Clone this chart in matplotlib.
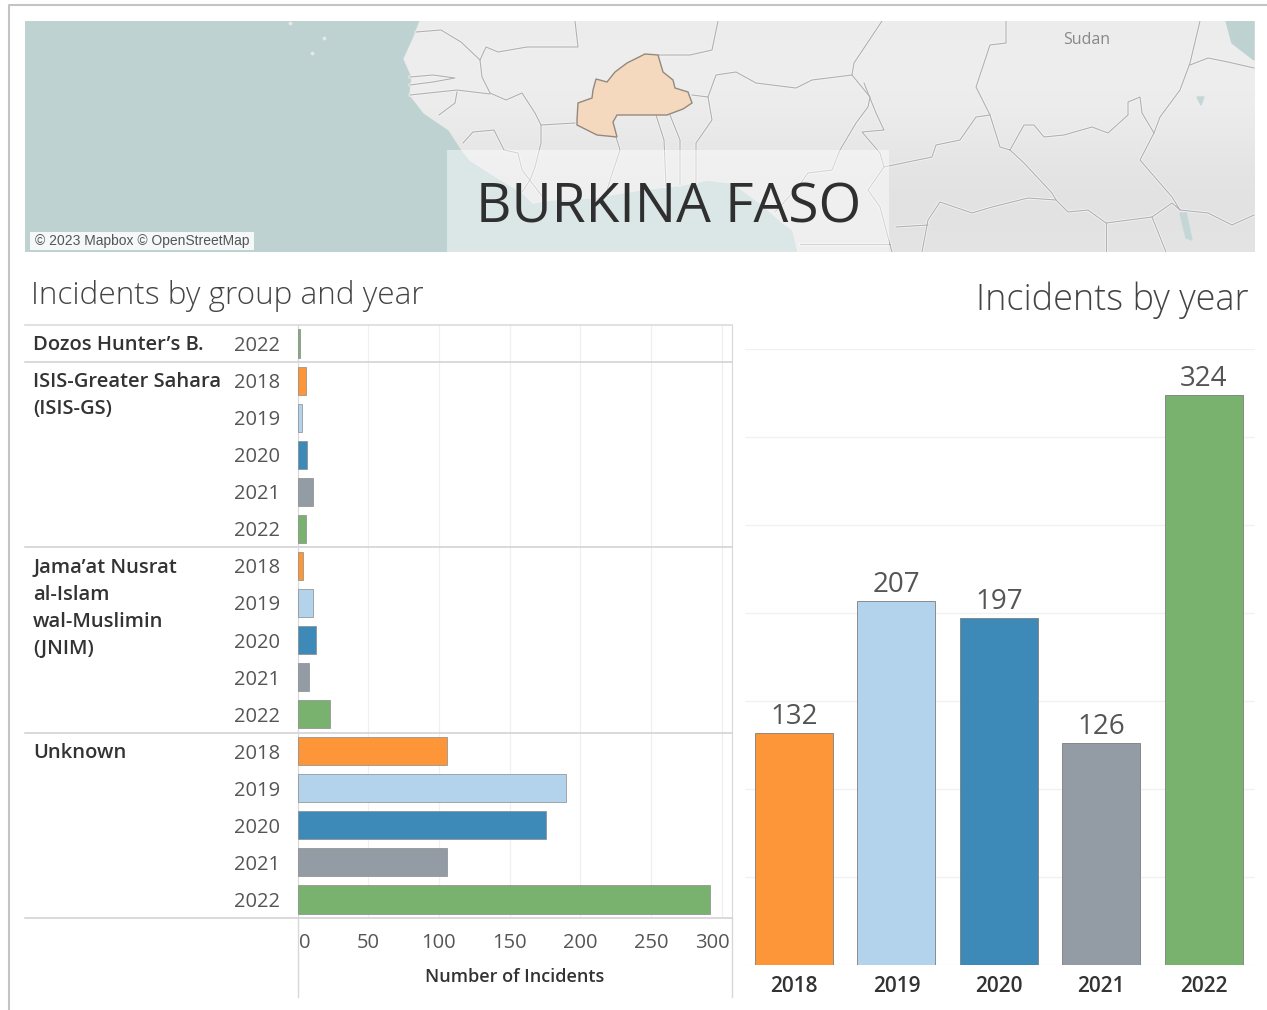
import matplotlib
matplotlib.use("Agg")
import matplotlib.pyplot as plt
from matplotlib.patches import Polygon, Rectangle
from matplotlib.transforms import blended_transform_factory
import numpy as np

W, H = 1267, 1010
plt.rcParams['font.family'] = ['Open Sans', 'DejaVu Sans']

# dane
years = ["2018", "2019", "2020", "2021", "2022"]
year_colors = {"2018": "#fd9539", "2019": "#b3d3ec", "2020": "#3d89b8", "2021": "#939ba4", "2022": "#78b26e"}
group_names = ["Dozos Hunter’s B.", "ISIS-Greater Sahara\n(ISIS-GS)", "Jama’at Nusrat\nal-Islam\nwal-Muslimin\n(JNIM)", "Unknown"]
group_years = [["2022"], years, years, years]
group_values = [[2], [6, 3, 7, 11, 6], [4, 11, 13, 8, 23], [106, 190, 176, 106, 292]]
total_values = [132, 207, 197, 126, 324]
x_ticks = [0, 50, 100, 150, 200, 250, 300]

# mapa - wspolrzedne w pikselach obrazka
coast = [(420, 21), (414, 37), (404, 59), (412, 77), (410, 95), (424, 113), (449, 130), (462, 150),
         (470, 160), (490, 173), (523, 193), (533, 203), (550, 200), (590, 198), (640, 190), (683, 185),
         (707, 180), (733, 183), (760, 203), (783, 223), (793, 230), (798, 252)]
burkina = [(577, 120), (578, 103), (592, 98), (593, 90), (596, 79), (607, 82), (615, 72), (627, 63),
           (645, 54), (658, 55), (663, 72), (673, 80), (675, 88), (688, 92), (692, 103), (683, 109),
           (667, 115), (617, 115), (613, 122), (617, 137), (597, 135), (577, 125)]
red_sea = [(1226, 21), (1232, 43), (1254, 60), (1254, 21)]
borders = [
    [(416, 32), (441, 30), (461, 42), (480, 60), (482, 77), (490, 93), (506, 100), (522, 93), (535, 113), (541, 125), (575, 123)],
    [(480, 60), (486, 47), (498, 52), (527, 47), (578, 47), (575, 21)],
    [(410, 77), (433, 75), (455, 78), (433, 82), (410, 85)],
    [(410, 95), (457, 90), (490, 94)],
    [(457, 92), (455, 103), (439, 115)],
    [(541, 125), (541, 143), (535, 167), (530, 180), (522, 192)],
    [(463, 143), (473, 132), (494, 130), (504, 150), (518, 153), (522, 170), (545, 200)],
    [(616, 137), (620, 150), (610, 180), (605, 197)],
    [(656, 115), (664, 140), (666, 186)],
    [(670, 115), (680, 140), (680, 185)],
    [(696, 183), (696, 143), (712, 120), (708, 97), (692, 95)],
    [(708, 97), (716, 75), (736, 72), (756, 83), (796, 88), (812, 80), (852, 75)],
    [(658, 55), (690, 55), (712, 50), (718, 21)],
    [(882, 21), (854, 63), (852, 75), (870, 97), (868, 107), (856, 123), (840, 150), (832, 170), (808, 173), (798, 187), (775, 212)],
    [(864, 83), (876, 113), (884, 130), (862, 132), (880, 153), (884, 167), (868, 190), (880, 207), (892, 252)],
    [(884, 167), (932, 157), (936, 145), (960, 140), (976, 117), (990, 115)],
    [(1006, 21), (1006, 43), (990, 45), (984, 63), (976, 87), (990, 115), (1000, 147), (1010, 150)],
    [(1010, 150), (1024, 125), (1034, 125), (1044, 137), (1064, 135), (1092, 127), (1108, 133), (1128, 115), (1128, 102), (1140, 97), (1142, 113), (1154, 133)],
    [(1010, 150), (1024, 163), (1052, 193), (1056, 200), (1068, 212), (1088, 210), (1106, 223), (1152, 217), (1172, 203), (1180, 210)],
    [(1056, 200), (1028, 198), (992, 207), (972, 213), (940, 202), (928, 220), (922, 252)],
    [(896, 227), (928, 225)],
    [(1200, 21), (1190, 63), (1180, 90), (1160, 117), (1154, 133), (1140, 160), (1172, 197), (1180, 210), (1208, 213), (1232, 225), (1254, 215)],
    [(1190, 65), (1208, 58), (1228, 62), (1254, 68)],
    [(1106, 223), (1106, 252)],
    [(1152, 217), (1166, 252)],
    [(800, 244), (890, 244)],
]
lakes = [[(1180, 213), (1186, 213), (1192, 240), (1186, 238)], [(1197, 97), (1204, 97), (1201, 105)]]
islands = [(290, 23), (324, 38), (312, 53)]

fig = plt.figure(figsize=(W / 100, H / 100), dpi=100)
fig.patch.set_facecolor("white")


def px_axes(x0, y0, x1, y1):
    # osie podane w pikselach obrazka (y od gory)
    return fig.add_axes([x0 / W, 1 - y1 / H, (x1 - x0) / W, (y1 - y0) / H])


# ramka calego dashboardu
fig.add_artist(plt.Line2D([9 / W, 9 / W, 1], [0, 1 - 5 / H, 1 - 5 / H], color="#c4c4c4", lw=1.5))

# MAPA
ax_map = px_axes(25, 21, 1255, 252)
ax_map.axis("off")
ax_map.add_patch(Rectangle((25, 21), 1230, 231, color="#bfd2d2", zorder=0))
land = Polygon(coast + [(1255, 252), (1255, 21)], closed=True, color="#e9e9e9", zorder=1)
ax_map.add_patch(land)
cmap_land = matplotlib.colors.LinearSegmentedColormap.from_list("z", ["#eeeeee", "#e2e2e2"])
shade = ax_map.imshow(np.array([[0.1], [0.0], [0.4], [1.0], [0.9]]), extent=(25, 1255, 252, 21), aspect="auto",
                      cmap=cmap_land, interpolation="bicubic", zorder=1.5)
shade.set_clip_path(land)
ax_map.set_xlim(25, 1255)
ax_map.set_ylim(252, 21)
ax_map.add_patch(Polygon(red_sea, closed=True, color="#bfd2d2", zorder=2))
for lake in lakes:
    ax_map.add_patch(Polygon(lake, closed=True, color="#c5d6d6", zorder=2))
for b in borders:
    xs, ys = zip(*b)
    ax_map.plot(xs, ys, color="#f4f4f4", lw=2, zorder=2.5)
    ax_map.plot(xs, ys, color="#b0b0b0", lw=0.8, zorder=3)
xs, ys = zip(*islands)
ax_map.scatter(xs, ys, s=3, color="#e4e8e8", zorder=3)
ax_map.add_patch(Polygon(burkina, closed=True, facecolor="#f5d9bf", edgecolor="#94897e", lw=1, zorder=4))
ax_map.add_patch(Rectangle((447, 150), 442, 102, color="white", alpha=0.45, lw=0, zorder=5))
ax_map.add_patch(Rectangle((30, 232), 224, 18, color="white", alpha=0.85, lw=0, zorder=5))
ax_map.text(35, 241, "© 2023 Mapbox © OpenStreetMap", family="Liberation Sans", fontsize=10, color="#555555", va="center", zorder=6)
ax_map.text(1087, 40, "Sudan", fontsize=11.5, color="#888888", ha="center", va="center", zorder=6)
ax_map.text(668.5, 208, "BURKINA FASO", fontsize=39.6, color="#2f2f2f", ha="center", va="center", zorder=6)

# TYTULY
fig.text(31 / W, 1 - 296 / H, "Incidents by group and year", fontsize=22.7, weight="light", color="#444444", va="center")
fig.text(1249 / W, 1 - 300 / H, "Incidents by year", fontsize=25.9, weight="light", color="#444444", va="center", ha="right")

# WYKRES LEWY
row_labels = []
row_values = []
for i in range(len(group_names)):
    for y, v in zip(group_years[i], group_values[i]):
        row_labels.append(y)
        row_values.append(v)
rows = np.arange(len(row_values))

ax_l = px_axes(297.5, 325, 732, 918)
ax_l.barh(rows, row_values, height=0.76, color=[year_colors[y] for y in row_labels],
          edgecolor="#8a8a8a", linewidth=0.5, zorder=3)
ax_l.set_xlim(0, 307.4)
ax_l.set_ylim(len(rows) - 0.5, -0.5)
ax_l.set_yticks(rows)
ax_l.set_yticklabels(row_labels, fontsize=14.5, color="#555555")
ax_l.tick_params(axis="y", length=0, pad=12.3)
ax_l.set_xticks(x_ticks)
ax_l.set_xticklabels([str(t) for t in x_ticks], fontsize=14.5, color="#555555")
ax_l.tick_params(axis="x", length=0, pad=11)
labs = ax_l.get_xticklabels()
labs[0].set_ha("left")
labs[0].set_transform(labs[0].get_transform() + matplotlib.transforms.ScaledTranslation(0.02, 0, fig.dpi_scale_trans))
labs[-1].set_ha("right")
labs[-1].set_transform(labs[-1].get_transform() + matplotlib.transforms.ScaledTranslation(0.08, 0, fig.dpi_scale_trans))
ax_l.grid(axis="x", color="#f0f0f0", lw=0.9, zorder=0)
for s in ["top", "bottom"]:
    ax_l.spines[s].set_visible(False)
for s in ["left", "right"]:
    ax_l.spines[s].set_color("#d8d8d8")

# linie i nazwy grup
tr = blended_transform_factory(fig.transFigure, ax_l.transData)
line_left, line_right = 25 / W, 732 / W
ax_l.add_line(plt.Line2D([line_left, line_right], [-0.5, -0.5], transform=tr, color="#d8d8d8", lw=1.1, clip_on=False))
start = 0
for i, name in enumerate(group_names):
    ax_l.text(33 / W, start - 0.22, name, transform=tr, fontsize=14.5, weight=600, color="#333333",
              va="top", linespacing=1.47)
    start += len(group_years[i])
    ax_l.add_line(plt.Line2D([line_left, line_right], [start - 0.5, start - 0.5], transform=tr,
                             color="#d0d0d0", lw=1.1, clip_on=False))
# przedluzenie osi pod wykresem
for xp in [298, 732]:
    fig.add_artist(plt.Line2D([xp / W, xp / W], [1 - 997 / H, 1 - 918 / H], color="#d8d8d8", lw=1))
fig.text(515 / W, 1 - 977 / H, "Number of Incidents", fontsize=13, weight=600, color="#333333", ha="center", va="center")

# WYKRES PRAWY
ax_r = px_axes(745, 349, 1255, 965)
pos = np.arange(len(years))
ax_r.bar(pos, total_values, width=0.76, color=[year_colors[y] for y in years], edgecolor="#7d7d7d", linewidth=0.6, zorder=3)
for p, v in zip(pos, total_values):
    ax_r.text(p, v + 1.2, str(v), fontsize=20, color="#555555", ha="center", va="bottom", linespacing=1)
ax_r.set_xlim(-0.478, 4.5)
ax_r.set_ylim(0, 350)
ax_r.set_yticks(range(0, 351, 50))
ax_r.set_yticklabels([])
ax_r.set_xticks(pos)
ax_r.set_xticklabels(years, fontsize=15, weight=600, color="#333333")
ax_r.tick_params(length=0)
ax_r.tick_params(axis="x", pad=8)
ax_r.grid(axis="y", color="#f1f1f1", lw=1, zorder=0)
for s in ax_r.spines.values():
    s.set_visible(False)

fig.savefig("out.png", dpi=100)
